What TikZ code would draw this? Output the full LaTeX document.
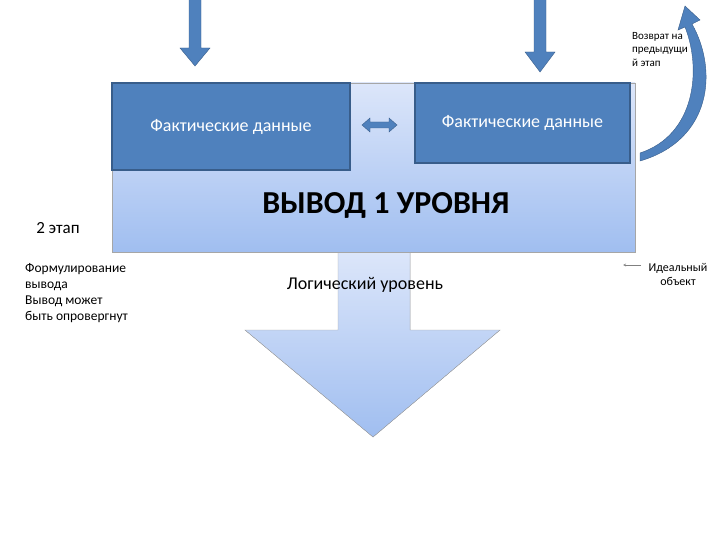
\documentclass[tikz,border=0pt]{standalone}
\usepackage{fontspec}
\setmainfont{Carlito}
\begin{document}
\begin{tikzpicture}[x=1pt,y=-1pt,
  dark/.style={fill={rgb,255:red,79;green,129;blue,189}, draw={rgb,255:red,56;green,93;blue,138}, line width=1.2pt},
  txt/.style={font=\fontsize{13.5}{16}\selectfont, align=left, anchor=north west, inner sep=0}]
\useasboundingbox (0,0) rectangle (720,540);
\definecolor{lb}{RGB}{220,230,250}
\definecolor{mb}{RGB}{160,190,240}
\definecolor{db}{RGB}{79,129,189}
\definecolor{dbe}{RGB}{56,93,138}
% big down arrow
\fill[top color=lb,bottom color=mb,draw=gray!70] (338,252) -- (410,252) -- (410,330) -- (500,330) -- (373,437) -- (245,330) -- (338,330) -- cycle;
\node[font=\fontsize{18}{20}\selectfont] (log) at (365,285) {Логический уровень};
% main box
\node[draw=gray!70,top color=lb,bottom color=mb,minimum width=523,minimum height=169,inner sep=0] (main) at (373.5,167.5) {};
\node[font=\bfseries\fontsize{32}{36}\selectfont] (title) at (386,205) {ВЫВОД 1 УРОВНЯ};
\node[dark,minimum width=238,minimum height=87,inner sep=0,text=white,font=\fontsize{18}{20}\selectfont] (f1) at (231,126.5) {Фактические данные};
\node[dark,minimum width=215,minimum height=80,inner sep=0,text=white,font=\fontsize{18}{20}\selectfont] (f2) at (522.5,123) {Фактические данные};
% double arrow
\fill[db,draw=dbe] (362,125) -- (370,118) -- (370,122) -- (389,122) -- (389,118) -- (397,125) -- (389,132) -- (389,128) -- (370,128) -- (370,132) -- cycle;
% top arrows
\fill[db,draw=dbe] (189,-2) -- (201,-2) -- (201,48) -- (210,48) -- (195,66) -- (180,48) -- (189,48) -- cycle;
\fill[db,draw=dbe] (534,-2) -- (546,-2) -- (546,52) -- (555,52) -- (540,72) -- (525,52) -- (534,52) -- cycle;
% curved return arrow
\fill[db,draw=dbe] (640,161) .. controls (712,140) and (718,70) .. (692,24) -- (700,20) -- (685,6) -- (678,30) -- (685,27) .. controls (702,70) and (695,135) .. (640,153) -- cycle;
\node[txt,font=\fontsize{11}{13.5}\selectfont] (ret) at (632,32) {Возврат на\\предыдущи\\й этап};
% small arrow
\coordinate (s1) at (641,265);
\coordinate (s2) at (623,265);
\draw[gray,-stealth] (s1) -- (s2);
\node[txt,font=\fontsize{12}{14}\selectfont,align=center,anchor=north] (id) at (678,263) {Идеальный\\объект};
\node[font=\fontsize{17}{19}\selectfont] (st) at (58,228) {2 этап};
\node[txt] (form) at (25,263) {Формулирование\\вывода\\Вывод может\\быть опровергнут};
\end{tikzpicture}
\end{document}
